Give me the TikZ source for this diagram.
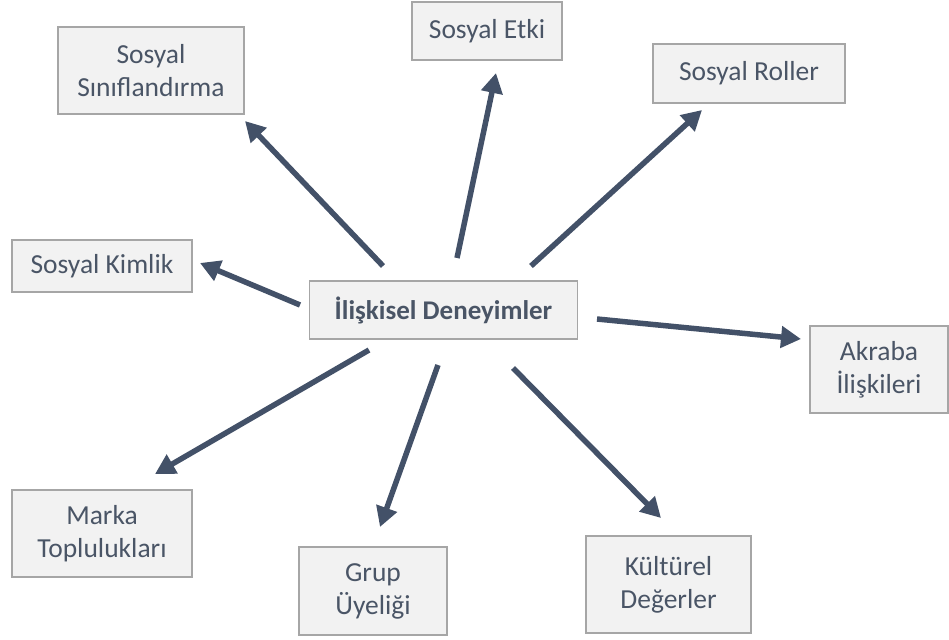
\documentclass[tikz,border=0pt]{standalone}
\usepackage{fontspec}
\setmainfont{Carlito}
\usetikzlibrary{arrows.meta}
\definecolor{boxfill}{HTML}{F2F2F2}
\definecolor{boxline}{HTML}{A6A6A6}
\definecolor{boxtext}{HTML}{4A5566}
\definecolor{arrowcol}{HTML}{435168}
\begin{document}
\begin{tikzpicture}[x=1pt,y=-1pt,
  conceptbox/.style={draw=boxline, fill=boxfill, line width=1.6pt, inner sep=0pt,
    text=boxtext, align=center, font=\fontsize{27.5}{33}\selectfont},
  link/.style={draw=arrowcol, line width=5.5pt,
    -{Triangle[length=20pt,width=21pt]}}
]
\useasboundingbox (0,0) rectangle (949,639);

% central concept
\node[conceptbox, minimum width=268pt, minimum height=58pt,
  font=\fontsize{27}{33}\selectfont\bfseries] (center) at (443.5,310) {İlişkisel Deneyimler};

% surrounding concepts
\node[conceptbox, minimum width=186pt, minimum height=87pt] (sinif) at (151,70.5) {Sosyal\\Sınıflandırma};
\node[conceptbox, minimum width=150pt, minimum height=58pt] (etki) at (487,31) {Sosyal Etki};
\node[conceptbox, minimum width=192pt, minimum height=59pt] (roller) at (749,73.5) {Sosyal Roller};
\node[conceptbox, minimum width=180pt, minimum height=52pt] (kimlik) at (102,266) {Sosyal Kimlik};
\node[conceptbox, minimum width=138pt, minimum height=87pt] (akraba) at (879,369.5) {Akraba\\İlişkileri};
\node[conceptbox, minimum width=180pt, minimum height=87pt] (marka) at (102,533.5) {Marka\\Toplulukları};
\node[conceptbox, minimum width=148pt, minimum height=88pt] (grup) at (373,591) {Grup\\Üyeliği};
\node[conceptbox, minimum width=165pt, minimum height=97pt] (kultur) at (668.5,584.5) {Kültürel\\Değerler};

% arrow end points
\coordinate (a1s) at (383,266);  \coordinate (a1e) at (245,121);
\coordinate (a2s) at (457,258);  \coordinate (a2e) at (496,73);
\coordinate (a3s) at (531,266);  \coordinate (a3e) at (702,110);
\coordinate (a4s) at (300,305);  \coordinate (a4e) at (200,263);
\coordinate (a5s) at (597,319);  \coordinate (a5e) at (801,339);
\coordinate (a6s) at (369,350);  \coordinate (a6e) at (155,474);
\coordinate (a7s) at (438,365);  \coordinate (a7e) at (380,527);
\coordinate (a8s) at (513,368);  \coordinate (a8e) at (661,518);

\draw[link] (a1s) -- (a1e);
\draw[link] (a2s) -- (a2e);
\draw[link] (a3s) -- (a3e);
\draw[link] (a4s) -- (a4e);
\draw[link] (a5s) -- (a5e);
\draw[link] (a6s) -- (a6e);
\draw[link] (a7s) -- (a7e);
\draw[link] (a8s) -- (a8e);
\end{tikzpicture}
\end{document}
